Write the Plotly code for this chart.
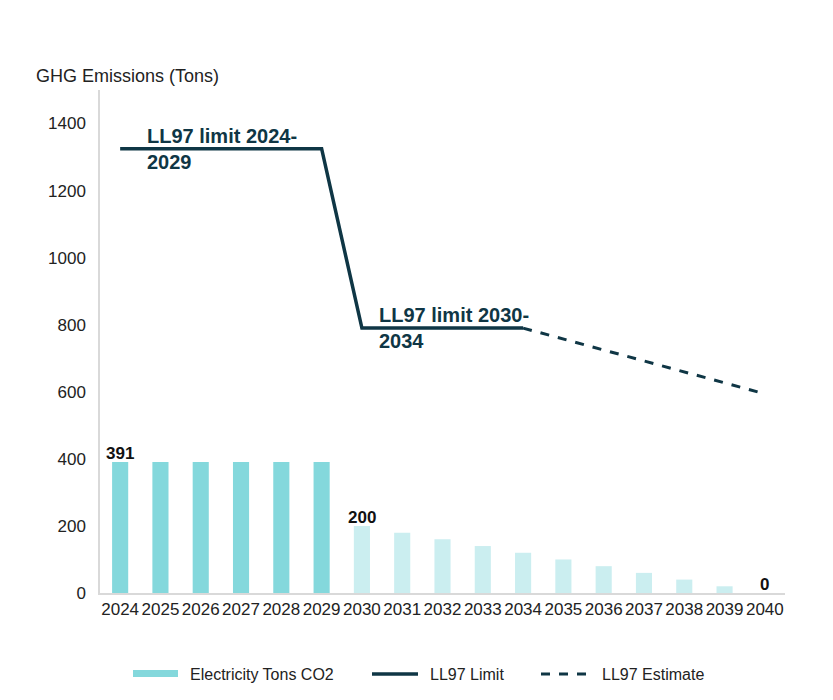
import plotly.graph_objects as go

# --- data ---
years = list(range(2024, 2041))
elec_tons = [391, 391, 391, 391, 391, 391, 200, 180, 160, 140, 120, 100, 80, 60, 40, 20, 0]
bar_colors = ['#84d8dc'] * 6 + ['#cbeef0'] * 11

limit_years = [2024, 2029, 2030, 2034]
limit_vals = [1325, 1325, 790, 790]

est_years = [2034, 2040]
est_vals = [790, 594]

label_years = [2024, 2030, 2040]
label_vals = [391, 200, 0]

legend_names = ['Electricity Tons CO2', 'LL97 Limit', 'LL97 Estimate']

line_color = '#0f3645'
bar_color = '#84d8dc'
font_family = 'Liberation Sans, Arial, sans-serif'

fig = go.Figure()

fig.add_trace(go.Bar(
    x=years, y=elec_tons, name=legend_names[0],
    marker=dict(color=bar_colors, line=dict(width=0)),
    width=0.4,
))

fig.add_trace(go.Scatter(
    x=limit_years, y=limit_vals, mode='lines', name=legend_names[1],
    line=dict(color=line_color, width=3.5),
))

fig.add_trace(go.Scatter(
    x=est_years, y=est_vals, mode='lines', name=legend_names[2],
    line=dict(color=line_color, width=3, dash='dash'),
))

# data labels on a few bars
for yr, v in zip(label_years, label_vals):
    fig.add_annotation(x=yr, y=v, text=f'<b>{v}</b>', showarrow=False,
                       yanchor='bottom', yshift=-3, xanchor='center',
                       font=dict(size=17, color='#111111', family=font_family))

# limit labels
fig.add_annotation(x=2024.62, y=1325, text='<b>LL97 limit 2024-<br>2029</b>',
                   showarrow=False, xanchor='left', yanchor='middle', align='left',
                   font=dict(size=20, color=line_color, family=font_family))
fig.add_annotation(x=2030.38, y=790, text='<b>LL97 limit 2030-<br>2034</b>',
                   showarrow=False, xanchor='left', yanchor='middle', align='left',
                   font=dict(size=20, color=line_color, family=font_family))

# axis title at the top left
fig.add_annotation(x=0, y=1, xref='paper', yref='paper', xshift=-66, yshift=14,
                   text='GHG Emissions (Tons)', showarrow=False,
                   xanchor='left', yanchor='middle',
                   font=dict(size=18, color='#222222', family=font_family))

# custom legend below the plot (wide swatches like the original)
def px_x(p):
    return (p - 100) / 685.0

def px_y(p):
    return (593 - p) / 503.0

ly = px_y(674)
fig.add_shape(type='rect', xref='paper', yref='paper',
              x0=px_x(133), x1=px_x(178), y0=px_y(677), y1=px_y(670),
              fillcolor=bar_color, line=dict(width=0))
fig.add_shape(type='line', xref='paper', yref='paper',
              x0=px_x(372), x1=px_x(418), y0=ly, y1=ly,
              line=dict(color=line_color, width=3.5))
fig.add_shape(type='line', xref='paper', yref='paper',
              x0=px_x(541), x1=px_x(589), y0=ly, y1=ly,
              line=dict(color=line_color, width=3, dash='dash'))
for px0, name in zip([188, 428, 600], legend_names):
    fig.add_annotation(x=px_x(px0), y=ly, xref='paper', yref='paper',
                       text=name, showarrow=False, xanchor='left', yanchor='middle',
                       font=dict(size=16, color='#222222', family=font_family))

fig.update_layout(
    width=833, height=700,
    paper_bgcolor='white', plot_bgcolor='white',
    margin=dict(l=92, r=56, t=82, b=115, autoexpand=False),
    font=dict(family=font_family, size=17, color='#222222'),
    showlegend=False,
    bargap=0.6,
)

fig.update_xaxes(
    range=[2023.5, 2040.5], tickmode='array', tickvals=years,
    ticktext=[str(y) for y in years], showgrid=False,
    showline=True, linecolor='#d9d9d9', linewidth=1.5, ticks='',
    tickfont=dict(size=17, color='#222222'), zeroline=False,
)
fig.update_yaxes(
    range=[0, 1500], tickvals=[0, 200, 400, 600, 800, 1000, 1200, 1400],
    showgrid=False, showline=True, linecolor='#d9d9d9', linewidth=1.5,
    ticks='outside', ticklen=9, tickcolor='white',
    tickfont=dict(size=17, color='#222222'), zeroline=False,
)

fig.write_html('out.html')
